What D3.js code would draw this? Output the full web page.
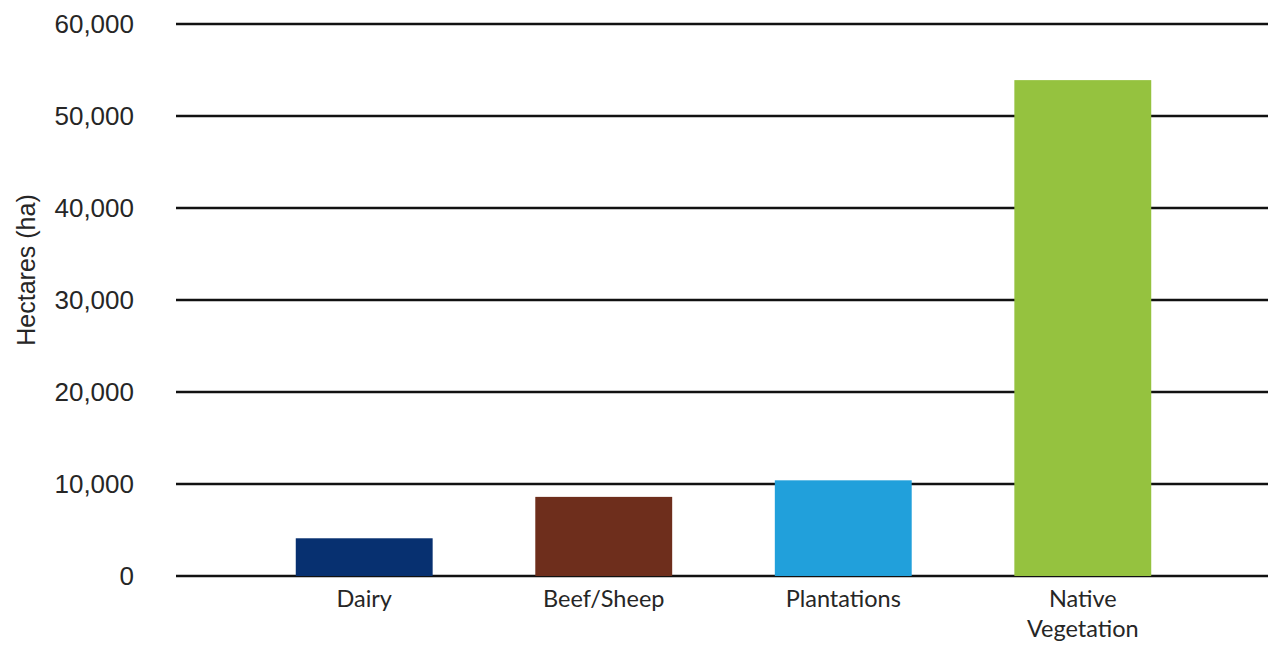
<!DOCTYPE html>
<html lang="en">
<head>
    <meta charset="UTF-8">
    <title>Hectares by land use</title>
    <style>
        body { margin: 0; background: #fff; }
    </style>
</head>
<body>
    <div id="graph"></div>
    <script src="https://d3js.org/d3.v7.min.js"></script>
    <script>
        // data
        var categories = ["Dairy", "Beef/Sheep", "Plantations", "Native Vegetation"];
        var values = [4100, 8600, 10400, 53900];
        var colors = ["#073070", "#6e2e1c", "#21a0db", "#95c23f"];
        var yTicks = [0, 10000, 20000, 30000, 40000, 50000, 60000];

        var width = 1272, height = 649;

        var svg = d3.select("#graph").append("svg")
            .attr("width", width)
            .attr("height", height);

        // scales
        var x = d3.scaleBand()
            .domain(categories)
            .range([176, 1271])
            .paddingInner(0.4285)
            .paddingOuter(0.5);

        var y = d3.scaleLinear()
            .domain([0, 60000])
            .range([576, 24]);

        // gridlines
        svg.append("g")
            .selectAll("line")
            .data(yTicks)
            .enter().append("line")
            .attr("x1", 176)
            .attr("x2", 1268)
            .attr("y1", function(d) { return y(d); })
            .attr("y2", function(d) { return y(d); })
            .attr("stroke", "#111")
            .attr("stroke-width", 2.5);

        // y axis labels
        var yAxis = svg.append("g")
            .attr("transform", "translate(134,0)")
            .call(d3.axisLeft(y).tickValues(yTicks).tickSize(0).tickPadding(0)
                .tickFormat(d3.format(",")));
        yAxis.select(".domain").remove();
        yAxis.selectAll("text")
            .attr("font-family", "Liberation Sans, Arial, sans-serif")
            .attr("font-size", 26)
            .attr("fill", "#262626");

        // bars
        svg.selectAll("rect.bar")
            .data(values)
            .enter().append("rect")
            .attr("class", "bar")
            .attr("x", function(d, i) { return x(categories[i]); })
            .attr("width", x.bandwidth())
            .attr("y", function(d) { return y(d); })
            .attr("height", function(d) { return y(0) - y(d); })
            .attr("fill", function(d, i) { return colors[i]; });

        // x labels (wrap long name)
        var labels = svg.append("g").selectAll("text")
            .data(categories)
            .enter().append("text")
            .attr("x", function(d) { return x(d) + x.bandwidth() / 2; })
            .attr("y", 607)
            .attr("text-anchor", "middle")
            .attr("font-family", "Lato, sans-serif")
            .attr("font-size", 23.5)
            .attr("fill", "#262626");
        labels.each(function(d) {
            var words = d === "Native Vegetation" ? ["Native", "Vegetation"] : [d];
            var t = d3.select(this);
            words.forEach(function(w, i) {
                t.append("tspan")
                    .attr("x", t.attr("x"))
                    .attr("dy", i === 0 ? 0 : 30)
                    .text(w);
            });
        });

        // y axis title
        svg.append("text")
            .attr("transform", "translate(35,270) rotate(-90)")
            .attr("text-anchor", "middle")
            .attr("font-family", "Liberation Sans, Arial, sans-serif")
            .attr("font-size", 25)
            .attr("fill", "#262626")
            .text("Hectares (ha)");
    </script>
</body>
</html>
